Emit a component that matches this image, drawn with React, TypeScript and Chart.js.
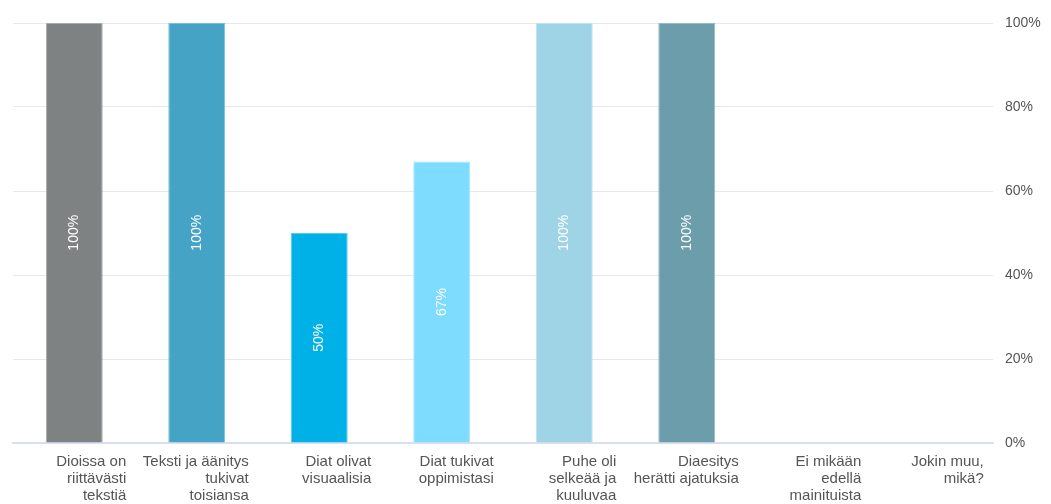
import React, { useEffect, useRef } from "react";
import { Chart, registerables } from "chart.js";

Chart.register(...registerables);

const categories: string[][] = [
  ["Dioissa on", "riittävästi", "tekstiä"],
  ["Teksti ja äänitys", "tukivat", "toisiansa"],
  ["Diat olivat", "visuaalisia"],
  ["Diat tukivat", "oppimistasi"],
  ["Puhe oli", "selkeää ja", "kuuluvaa"],
  ["Diaesitys", "herätti ajatuksia"],
  ["Ei mikään", "edellä", "mainituista"],
  ["Jokin muu,", "mikä?"],
];
const values: number[] = [100, 100, 50, 67, 100, 100, 0, 0];
const barColors: string[] = [
  "#7e8283",
  "#45a4c6",
  "#00b1e8",
  "#7ddcff",
  "#9fd3e6",
  "#6b9dab",
  "#999999",
  "#999999",
];
const borderColors: string[] = [
  "#a9acad",
  "#7cc0d8",
  "#5ccbf0",
  "#a6e7ff",
  "#c0e2ef",
  "#95bac4",
  "#999999",
  "#999999",
];
const yTicks: number[] = [0, 20, 40, 60, 80, 100];

const valueLabelPlugin = {
  id: "valueLabels",
  afterDatasetsDraw(chart: any) {
    const { ctx } = chart;
    const meta = chart.getDatasetMeta(0);
    ctx.save();
    ctx.fillStyle = "#ffffff";
    ctx.font = "14px 'Liberation Sans', Arial, sans-serif";
    ctx.textAlign = "center";
    ctx.textBaseline = "middle";
    meta.data.forEach((bar: any, i: number) => {
      const v = values[i];
      if (!v) return;
      const x = bar.x;
      const y = (bar.y + bar.base) / 2;
      ctx.save();
      ctx.translate(x, y);
      ctx.rotate(-Math.PI / 2);
      ctx.fillText(`${v}%`, 0, 0);
      ctx.restore();
    });
    ctx.restore();
  },
};

export default function App() {
  const ref = useRef<HTMLCanvasElement | null>(null);
  useEffect(() => {
    if (!ref.current) return;
    const chart = new Chart(ref.current, {
      type: "bar",
      data: {
        labels: categories,
        datasets: [
          {
            data: values,
            backgroundColor: barColors,
            borderColor: borderColors,
            borderWidth: 1,
            barPercentage: 0.465,
            categoryPercentage: 1,
          },
        ],
      },
      options: {
        responsive: false,
        animation: false,
        layout: { padding: { left: 5, top: 15, right: 0, bottom: 0 } },
        plugins: {
          legend: { display: false },
          tooltip: { enabled: false },
        },
        scales: {
          x: {
            afterFit: (scale: any) => {
              scale.paddingLeft = 0;
              scale.paddingRight = 0;
              scale.height = 61;
            },
            grid: { display: false, drawTicks: false },
            border: { display: true, color: "#dadff0", width: 2 },
            ticks: {
              align: "end",
              labelOffset: 52,
              maxRotation: 0,
              minRotation: 0,
              autoSkip: false,
              padding: 10,
              color: "#555555",
              font: { family: "'Liberation Sans', Arial, sans-serif", size: 15, lineHeight: 1.14 },
            },
          },
          y: {
            position: "right",
            min: 0,
            max: 100,
            afterBuildTicks: (axis: any) => {
              axis.ticks = yTicks.map((v) => ({ value: v }));
            },
            afterFit: (scale: any) => {
              scale.paddingTop = 0;
              scale.paddingBottom = 0;
              scale.width = 58;
            },
            grid: { color: "#e8e8e8", drawTicks: false, lineWidth: 1 },
            border: { display: false },
            ticks: {
              padding: 12,
              color: "#555555",
              font: { family: "'Liberation Sans', Arial, sans-serif", size: 14 },
              callback: (v: any) => `${v}%`,
            },
          },
        },
      },
      plugins: [valueLabelPlugin],
    });
    return () => chart.destroy();
  }, []);
  return <canvas ref={ref} width={1043} height={496} style={{ display: "block" }} />;
}
